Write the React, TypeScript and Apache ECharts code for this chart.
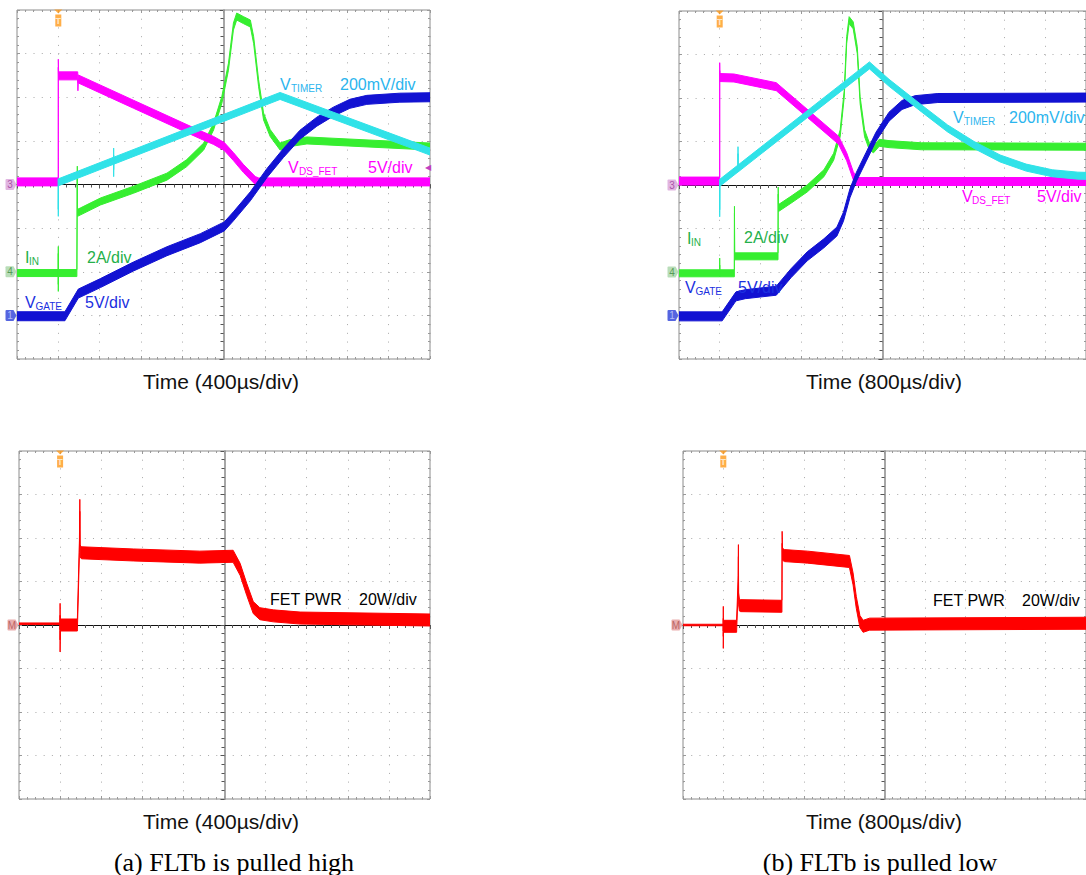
import React, { useEffect, useRef } from 'react';
import * as echarts from 'echarts';

// ---------------- scope settings ----------------
const US_PER_DIV_A = 400;
const US_PER_DIV_B = 800;
const TRIG_TO_CENTER_DIV = 4; // trigger sits 1 div from the left edge, screen centre at 5 div
const TRIGGER_US = 0;

const VDS_V_PER_DIV = 5;
const VTIMER_V_PER_DIV = 0.2;
const IIN_A_PER_DIV = 2;
const VGATE_V_PER_DIV = 5;
const PWR_W_PER_DIV = 20;

const VDS_OFFSET_DIV = 0;
const VTIMER_OFFSET_DIV = 0;
const IIN_OFFSET_DIV = -2;
const VGATE_OFFSET_DIV = -3;
const PWR_OFFSET_DIV = 0;

// ---------------- texts ----------------
const TIME_LABEL_A = 'Time (400µs/div)';
const TIME_LABEL_B = 'Time (800µs/div)';
const CAPTION_A = '(a) FLTb is pulled high';
const CAPTION_B = '(b) FLTb is pulled low';
const SCALE_TIMER = '200mV/div';
const SCALE_VDS = '5V/div';
const SCALE_IIN = '2A/div';
const SCALE_GATE = '5V/div';
const SCALE_PWR = '20W/div';

// ---------------- data: [time µs after trigger, value] ----------------
// (a) FLTb pulled high, 400 µs/div
const vdsA = [[-400, 0.3], [0, 0.3], [0, 13.9], [3, 12.45], [188, 12.45], [190, 11.2], [193, 12.1], [728, 9.2], [1376, 5.7], [1504, 5.05], [1608, 4.35], [1696, 3.2], [1792, 1.85], [1908, 0.45], [1940, 0.3], [3600, 0.3]];
const vtimerA = [[0, 0.01], [0, -0.13], [1, 0.01], [536, 0.109], [536, 0.151], [536, 0.052], [537, 0.109], [2148, 0.406], [3600, 0.151]];
const iinA = [[-400, -0.06], [0, -0.06], [0, 1.0], [0, -0.74], [1, -0.06], [180, -0.06], [184, 4.68], [186, 2.7], [212, 2.76], [408, 3.22], [728, 3.76], [1052, 4.36], [1244, 4.98], [1408, 5.74], [1504, 6.66], [1584, 7.88], [1648, 9.4], [1696, 11.24], [1728, 11.7], [1792, 11.54], [1860, 11.38], [1892, 10.62], [1940, 8.64], [1988, 7.12], [2052, 6.36], [2148, 5.74], [2244, 5.9], [2408, 6.02], [3600, 5.74]];
const vgateA = [[-400, -0.1], [64, -0.1], [194, 2.5], [408, 3.7], [728, 5.6], [1052, 7.35], [1376, 8.85], [1608, 10.2], [1696, 11.35], [1860, 13.65], [2020, 16.3], [2180, 18.6], [2340, 20.7], [2504, 22.2], [2664, 23.35], [2824, 24.25], [2988, 24.7], [3308, 24.95], [3600, 25.0]];
const pwrPreA = [[-400, 0.6], [0, 0.6]];
const pwrA = [[0, 0.6], [0, 7.2], [0, -9.6], [2, 0], [168, 0], [188, 36], [192, 55], [195, 34], [208, 33.2], [712, 32.2], [1360, 31.2], [1684, 31.6], [1752, 25.6], [1816, 16.4], [1880, 8.0], [1944, 5.2], [2076, 4.2], [2336, 3.2], [3600, 2.3]];

// (b) FLTb pulled low, 800 µs/div
const vdsB = [[-800, 0.45], [0, 0.45], [0, 13.6], [4, 12.35], [280, 12.3], [1112, 11.3], [2336, 5.15], [2496, 3.25], [2624, 1.1], [2688, 0.4], [7200, 0.4]];
const vtimerB = [[0, 0.01], [0, -0.13], [1, 0.01], [360, 0.076], [360, 0.16], [361, 0.076], [2944, 0.55], [3328, 0.47], [3968, 0.352], [4480, 0.26], [5000, 0.184], [5512, 0.122], [6024, 0.08], [6536, 0.054], [7040, 0.043], [7200, 0.042]];
const iinB = [[-800, -0.06], [0, -0.06], [0, 0.48], [1, -0.06], [288, -0.06], [290, 2.86], [294, 0.72], [1146, 0.72], [1150, 3.74], [1156, 2.94], [1400, 3.32], [1720, 3.84], [2048, 4.54], [2240, 5.3], [2368, 6.38], [2448, 8.2], [2496, 10.66], [2544, 11.58], [2624, 11.34], [2704, 10.2], [2760, 7.9], [2848, 6.38], [2944, 5.76], [3024, 5.64], [3136, 5.94], [3328, 5.88], [3968, 5.78], [7200, 5.76]];
const vgateB = [[-800, -0.1], [48, -0.1], [320, 2.2], [504, 2.45], [1112, 2.85], [1400, 4.85], [1720, 6.8], [2048, 8.3], [2304, 9.65], [2432, 11.35], [2560, 14.05], [2688, 15.95], [2880, 18.25], [3072, 20.55], [3328, 22.85], [3584, 24.2], [3840, 24.75], [4288, 25.0], [7200, 25.05]];
const pwrPreB = [[-800, 0], [0, 0]];
const pwrB = [[0, 0], [0, 5.8], [0, -8], [2, -0.6], [264, -0.6], [296, 20], [300, 34.2], [304, 12], [320, 9.2], [344, 8.9], [1152, 8.6], [1164, 8.6], [1168, 40.3], [1176, 32.5], [1216, 31.9], [1672, 31.2], [2504, 29.2], [2576, 21.2], [2640, 10.4], [2712, 1.6], [2776, -0.6], [2904, 0.4], [7200, 0.8]];

// ---------------- styling ----------------
const SANS = '"Liberation Sans", Arial, sans-serif';
const SERIF = '"Liberation Serif", "Times New Roman", serif';
const C_MAGENTA = '#ff00ff';
const C_CYAN = '#30e2e8';
const C_GREEN = '#36ee30';
const C_BLUE = '#1212d2';
const C_RED = '#ff0000';
const L_CYAN = '#2bb5ee';
const L_GREEN = '#25b04a';
const L_BLUE = '#1b2fe0';
const DOT = '#a8a8a8';

function chanRange(perDiv: number, offsetDiv: number) {
  return { min: (-4 - offsetDiv) * perDiv, max: (4 - offsetDiv) * perDiv };
}

function band(name: string, pts: number[][], tc: number, xi: number, yi: number, color: string, thick: number, z: number) {
  const data = pts.map((p) => [p[0] - tc, p[1]]);
  return {
    type: 'custom',
    name,
    xAxisIndex: xi,
    yAxisIndex: yi,
    data,
    z,
    clip: true,
    silent: true,
    renderItem: (params: any, api: any) => {
      if (params.dataIndex !== 0) return null;
      const top: number[][] = [];
      const bot: number[][] = [];
      for (const d of data) {
        const c = api.coord(d);
        top.push([c[0], c[1] - thick / 2]);
        bot.push([c[0], c[1] + thick / 2]);
      }
      return {
        type: 'polygon',
        shape: { points: top.concat(bot.reverse()) },
        style: { fill: color, stroke: color, lineWidth: 1 },
      };
    },
  };
}

function chMarker(xi: number, yi: number, x: number, label: string, fill: string, txtColor: string) {
  return {
    type: 'scatter',
    xAxisIndex: xi,
    yAxisIndex: yi,
    data: [[x, 0]],
    symbol: 'path://M1,0 L8,0 L11,5 L8,10 L1,10 Q0,10 0,9 L0,1 Q0,0 1,0 Z',
    symbolSize: [11, 11],
    symbolOffset: [-6, 0],
    itemStyle: { color: fill },
    label: { show: true, position: 'inside', formatter: label, color: txtColor, fontSize: 10, fontFamily: SANS, offset: [-1, 0] },
    clip: false,
    silent: true,
    z: 6,
  };
}

function trigMarker(xi: number, yi: number, x: number, y: number) {
  return {
    type: 'scatter',
    xAxisIndex: xi,
    yAxisIndex: yi,
    data: [[x, y]],
    symbol: 'path://M0,0 L8,0 L4,4 Z M1,5 L7,5 L7,17 L1,17 Z',
    symbolSize: [8, 17],
    symbolOffset: [0, 8],
    itemStyle: { color: '#ff9a1a' },
    label: { show: true, position: 'inside', formatter: 'T', color: '#fff8ea', fontSize: 9, fontWeight: 'bold', fontFamily: SANS, offset: [0, 2.5] },
    clip: false,
    silent: true,
    z: 6,
  };
}

function txt(x: number, y: number, text: string, size: number, color: string, align = 'left', family = SANS) {
  return {
    type: 'text',
    x,
    y,
    z: 100,
    silent: true,
    style: { text, fill: color, font: `${size}px ${family}`, align, verticalAlign: 'middle', textAlign: align, textVerticalAlign: 'middle' },
  };
}

function buildOption() {
  const grids = [
    { left: 17, top: 10, width: 413, height: 349 },
    { left: 679, top: 11, width: 415, height: 348 },
    { left: 19, top: 451, width: 411, height: 348 },
    { left: 683, top: 451, width: 412, height: 348 },
  ].map((g) => ({ ...g, show: true, borderColor: '#8c8c8c', borderWidth: 1, backgroundColor: '#fff' }));

  const xAxes: any[] = [];
  const yAxes: any[] = [];
  const series: any[] = [];

  const hiddenBits = { axisLabel: { show: false }, splitArea: { show: false } };

  function panel(gi: number, usPerDiv: number, perDiv: number, offsetDiv: number) {
    const half = 5 * usPerDiv;
    const r = chanRange(perDiv, offsetDiv);
    const xc = xAxes.length;
    const yc = yAxes.length;
    const ySpacing = grids[gi].height / 40;
    const xSpacing = grids[gi].width / 50;
    xAxes.push({
      type: 'value', gridIndex: gi, min: -half, max: half, interval: usPerDiv, position: 'bottom',
      axisLine: { show: true, onZero: true, onZeroAxisIndex: yc, lineStyle: { color: '#111', width: 1 } },
      axisTick: { show: true, length: 4, lineStyle: { color: '#555' } },
      minorTick: { show: true, splitNumber: 5, length: 3, lineStyle: { color: '#555' } },
      splitLine: { show: true, lineStyle: { color: DOT, width: 1, type: [1, ySpacing - 1] } },
      ...hiddenBits,
    });
    for (const pos of ['top', 'bottom']) {
      xAxes.push({
        type: 'value', gridIndex: gi, min: -half, max: half, interval: usPerDiv, position: pos,
        axisLine: { show: false, onZero: false },
        axisTick: { show: true, inside: true, length: 3, lineStyle: { color: '#999' } },
        minorTick: { show: true, splitNumber: 5, length: 2, lineStyle: { color: '#999' } },
        splitLine: { show: false },
        ...hiddenBits,
      });
    }
    yAxes.push({
      type: 'value', gridIndex: gi, min: r.min, max: r.max, interval: perDiv, position: 'left',
      axisLine: { show: true, onZero: true, onZeroAxisIndex: xc, lineStyle: { color: '#8a8a8a', width: 1.5 } },
      axisTick: { show: true, length: 4, lineStyle: { color: '#555' } },
      minorTick: { show: true, splitNumber: 5, length: 3, lineStyle: { color: '#555' } },
      splitLine: { show: true, lineStyle: { color: DOT, width: 1, type: [1, xSpacing - 1] } },
      ...hiddenBits,
    });
    for (const pos of ['left', 'right']) {
      yAxes.push({
        type: 'value', gridIndex: gi, min: r.min, max: r.max, interval: perDiv, position: pos,
        axisLine: { show: false, onZero: false },
        axisTick: { show: true, inside: true, length: 3, lineStyle: { color: '#999' } },
        minorTick: { show: true, splitNumber: 5, length: 2, lineStyle: { color: '#999' } },
        splitLine: { show: false },
        ...hiddenBits,
      });
    }
    return { xc, yc, tc: TRIG_TO_CENTER_DIV * usPerDiv, xMin: -half, yMax: r.max };
  }

  function chanAxis(gi: number, perDiv: number, offsetDiv: number) {
    const r = chanRange(perDiv, offsetDiv);
    yAxes.push({ type: 'value', gridIndex: gi, min: r.min, max: r.max, show: false, axisLine: { onZero: false } });
    return yAxes.length - 1;
  }

  // ---- top panels: four channels
  const tops = [
    { gi: 0, us: US_PER_DIV_A, vds: vdsA, vt: vtimerA, iin: iinA, gate: vgateA },
    { gi: 1, us: US_PER_DIV_B, vds: vdsB, vt: vtimerB, iin: iinB, gate: vgateB },
  ];
  for (const t of tops) {
    const P = panel(t.gi, t.us, VDS_V_PER_DIV, VDS_OFFSET_DIV);
    const yTimer = chanAxis(t.gi, VTIMER_V_PER_DIV, VTIMER_OFFSET_DIV);
    const yIin = chanAxis(t.gi, IIN_A_PER_DIV, IIN_OFFSET_DIV);
    const yGate = chanAxis(t.gi, VGATE_V_PER_DIV, VGATE_OFFSET_DIV);
    series.push(band('I_IN', t.iin, P.tc, P.xc, yIin, C_GREEN, 7, 2));
    series.push(band('V_DS_FET', t.vds, P.tc, P.xc, P.yc, C_MAGENTA, 8, 3));
    series.push(band('V_GATE', t.gate, P.tc, P.xc, yGate, C_BLUE, 9, 4));
    series.push(band('V_TIMER', t.vt, P.tc, P.xc, yTimer, C_CYAN, 7, 5));
    series.push(chMarker(P.xc, P.yc, P.xMin, '3', '#d9a2d9', '#9a3a9a'));
    series.push(chMarker(P.xc, yIin, P.xMin, '4', '#a6d4a6', '#3c8a3c'));
    series.push(chMarker(P.xc, yGate, P.xMin, '1', '#2a3ed8', '#c8d0ff'));
    series.push(trigMarker(P.xc, P.yc, TRIGGER_US - P.tc, P.yMax));
  }

  // ---- bottom panels: math power
  const bots = [
    { gi: 2, us: US_PER_DIV_A, pre: pwrPreA, main: pwrA },
    { gi: 3, us: US_PER_DIV_B, pre: pwrPreB, main: pwrB },
  ];
  for (const b of bots) {
    const P = panel(b.gi, b.us, PWR_W_PER_DIV, PWR_OFFSET_DIV);
    series.push(band('FET PWR', b.pre, P.tc, P.xc, P.yc, C_RED, 1.5, 3));
    series.push(band('FET PWR', b.main, P.tc, P.xc, P.yc, C_RED, 12, 3));
    series.push(chMarker(P.xc, P.yc, P.xMin, 'M', '#e49a9a', '#b05050'));
    series.push(trigMarker(P.xc, P.yc, TRIGGER_US - P.tc, P.yMax));
  }

  const texts = [
    // panel (a) top
    txt(280, 84, 'V', 16, L_CYAN), txt(291, 88.5, 'TIMER', 10, L_CYAN),
    txt(340, 84, SCALE_TIMER, 16, L_CYAN),
    txt(288, 167, 'V', 16, C_MAGENTA), txt(299, 171, 'DS_FET', 10, C_MAGENTA),
    txt(368, 167, SCALE_VDS, 16, C_MAGENTA),
    txt(425, 167, '◀', 8, '#c040c0'),
    txt(25, 257, 'I', 16, L_GREEN), txt(29, 261, 'IN', 10, L_GREEN),
    txt(87, 257, SCALE_IIN, 16, L_GREEN),
    txt(25, 302.5, 'V', 16, L_BLUE), txt(35.5, 306.5, 'GATE', 10, L_BLUE),
    txt(85, 302, SCALE_GATE, 16, L_BLUE),
    // panel (b) top
    txt(953, 117.5, 'V', 16, L_CYAN), txt(964, 121.5, 'TIMER', 10, L_CYAN),
    txt(1009, 117.5, SCALE_TIMER, 16, L_CYAN),
    txt(962, 196, 'V', 16, C_MAGENTA), txt(972, 200, 'DS_FET', 10, C_MAGENTA),
    txt(1037, 196, SCALE_VDS, 16, C_MAGENTA),
    txt(687, 238, 'I', 16, L_GREEN), txt(691, 242, 'IN', 10, L_GREEN),
    txt(744, 237.5, SCALE_IIN, 16, L_GREEN),
    txt(685, 287.5, 'V', 16, L_BLUE), txt(695.5, 291.5, 'GATE', 10, L_BLUE),
    txt(738, 287, SCALE_GATE, 16, L_BLUE),
    // bottom panels
    txt(270, 599.5, 'FET PWR', 16, '#000'), txt(359, 599.5, SCALE_PWR, 16, '#000'),
    txt(933, 600, 'FET PWR', 16, '#000'), txt(1022, 600, SCALE_PWR, 16, '#000'),
    // time axes titles
    txt(221, 381, TIME_LABEL_A, 21, '#111', 'center'),
    txt(884, 381, TIME_LABEL_B, 21, '#111', 'center'),
    txt(221, 821, TIME_LABEL_A, 21, '#111', 'center'),
    txt(884, 821, TIME_LABEL_B, 21, '#111', 'center'),
    // captions
    txt(234, 862, CAPTION_A, 26, '#000', 'center', SERIF),
    txt(880, 862, CAPTION_B, 26, '#000', 'center', SERIF),
  ];

  return {
    animation: false,
    backgroundColor: '#ffffff',
    grid: grids,
    xAxis: xAxes,
    yAxis: yAxes,
    series,
    graphic: { elements: texts },
  };
}

export default function App() {
  const ref = useRef<HTMLDivElement>(null);
  useEffect(() => {
    const chart = echarts.init(ref.current as HTMLDivElement, undefined, { renderer: 'svg' });
    chart.setOption(buildOption() as any);
    return () => chart.dispose();
  }, []);
  return <div ref={ref} style={{ position: 'fixed', left: 0, top: 0, width: 1086, height: 875, background: '#fff' }} />;
}
